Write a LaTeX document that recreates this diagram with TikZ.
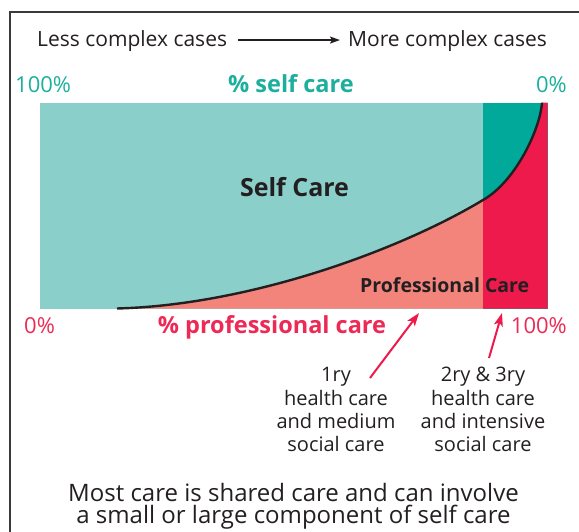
\documentclass[tikz,border=0pt]{standalone}
\usepackage{fontspec}
\setmainfont{Open Sans}
\usetikzlibrary{arrows.meta}
\definecolor{lteal}{HTML}{8ACFC9}
\definecolor{dteal}{HTML}{00A99A}
\definecolor{salmon}{HTML}{F2847C}
\definecolor{pred}{HTML}{EE1A4B}
\definecolor{tealtxt}{HTML}{1BAF9C}
\definecolor{redtxt}{HTML}{EC2A55}
\definecolor{darktxt}{HTML}{231F20}
\definecolor{framec}{HTML}{3A3A3A}
\begin{document}
\begin{tikzpicture}[x=1pt,y=-1pt,
  txt/.style={inner sep=0pt, text=darktxt, font=\fontsize{21}{24}\selectfont},
  pct/.style={inner sep=0pt, font=\fontsize{22}{24}\selectfont},
  head/.style={inner sep=0pt, font=\bfseries\fontsize{23.5}{26}\selectfont},
  ann/.style={inner sep=0pt, align=center, text=darktxt, font=\fontsize{20}{23.3}\selectfont},
  redarrow/.style={draw=pred, line width=2pt, -{Stealth[length=13pt,width=9pt,inset=3pt]}}]
\useasboundingbox (0,0) rectangle (579,532);
\draw[framec, line width=1.4pt] (9.8,12) rectangle (620,580);

% chart
\fill[lteal] (40,102.7) rectangle (483,308.5);
\fill[salmon] (117,308.5) .. controls (250,305) and (400,250) .. (483,200) -- (483,308.5) -- cycle;
\fill[dteal] (483,102.7) rectangle (547.7,308.5);
\fill[pred] (483,200) .. controls (515,182) and (540,130) .. (542,102.7) -- (547.7,102.7) -- (547.7,308.5) -- (483,308.5) -- cycle;
\draw[darktxt, line width=2.4pt] (117,308.5) .. controls (250,305) and (400,250) .. (483,200)
  .. controls (515,182) and (540,130) .. (542,102.7);

% top line
\node[txt, anchor=base west] (less) at (37,47) {Less complex cases};
\node[txt, anchor=base west] (more) at (348,47) {More complex cases};
\draw[darktxt, line width=1.5pt, -{Stealth[length=10pt,width=7pt,inset=2pt]}]
  ([xshift=11pt,yshift=1.5pt]less.east) -- ([xshift=-8pt,yshift=1.5pt]more.west);

% top labels
\node[pct, text=tealtxt, anchor=base west] (h100) at (15,93) {100\%};
\node[head, text=tealtxt, anchor=base] (selfpct) at (291,93) {\% self care};
\node[pct, text=tealtxt, anchor=base east] (h0) at (567,93) {0\%};

% inner labels
\node[inner sep=0pt, text=darktxt, font=\bfseries\fontsize{25}{28}\selectfont, anchor=base] (self) at (294.5,196.7) {Self Care};
\node[inner sep=0pt, text=darktxt, font=\bfseries\fontsize{19.5}{22}\selectfont, anchor=base west] (prof) at (360,292) {Professional Care};

% bottom labels
\node[pct, text=redtxt, anchor=base west] (l0) at (24,333) {0\%};
\node[head, text=redtxt, anchor=base] (profpct) at (272,333) {\% professional care};
\node[pct, text=redtxt, anchor=base east] (l100) at (567,333) {100\%};

% annotations
\node[ann, anchor=base] (ann1) at (336,451.7) {1ry\\health care\\and medium\\social care};
\node[ann, anchor=base] (ann2) at (483,451.7) {2ry \& 3ry\\health care\\and intensive\\social care};
\coordinate (t1) at (370,378);
\coordinate (p1) at (419,313);
\coordinate (t2) at (489,358);
\coordinate (p2) at (502,313);
\draw[redarrow] (t1) -- (p1);
\draw[redarrow] (t2) -- (p2);

% caption
\node[inner sep=0pt, align=center, text=darktxt, font=\fontsize{24}{22}\selectfont, anchor=base] (cap) at (293.5,523)
  {Most care is shared care and can involve\\a small or large component of self care};
\end{tikzpicture}
\end{document}
